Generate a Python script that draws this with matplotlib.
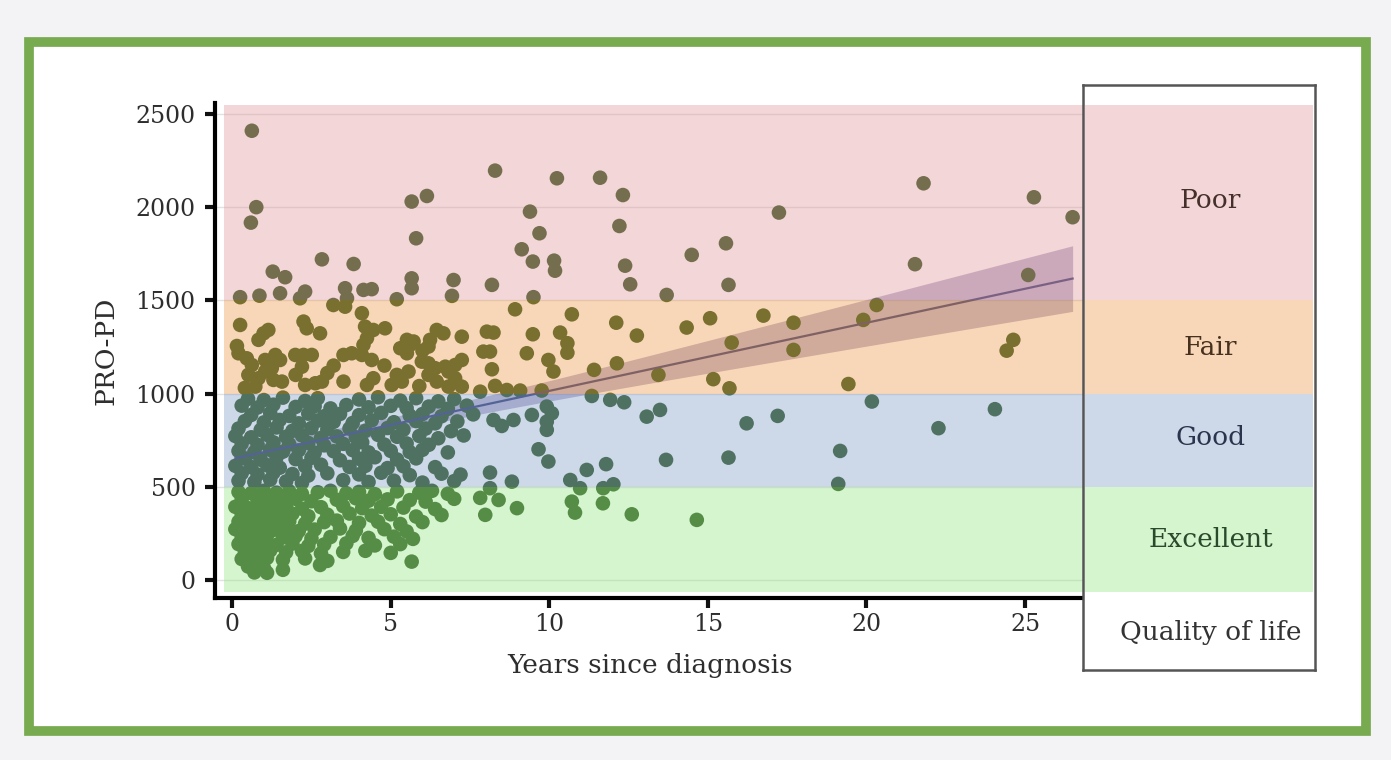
import numpy as np
import matplotlib
matplotlib.use("Agg")
import matplotlib.pyplot as plt
from matplotlib.patches import Rectangle

plt.rcParams['font.family'] = ['DejaVu Serif']

# quality-of-life bands (PRO-PD score ranges)
band_labels = ["Excellent", "Good", "Fair", "Poor"]
band_edges = [-65, 500, 1000, 1500, 2550]
band_colors = ["#96e687", "#82a0ca", "#ed9b4e", "#e1999d"]
band_text_y = [215, 767, 1250, 2039]
band_text_colors = ["#2a4a2c", "#2a344d", "#47301e", "#45302b"]

# (years since diagnosis, PRO-PD)
poor_pts = [
    (0.62, 2410), (0.76, 2000), (0.59, 1917), (2.83, 1720), (3.83, 1695), (1.28, 1654),
    (1.67, 1624), (0.25, 1517), (0.86, 1525), (1.51, 1538), (2.30, 1547), (2.14, 1511),
    (3.56, 1565), (3.62, 1511), (4.14, 1556), (4.40, 1560), (5.19, 1506), (5.66, 2030),
    (6.14, 2060), (5.80, 1833), (5.66, 1618), (5.66, 1565), (6.98, 1609), (6.93, 1524),
    (8.29, 2196), (8.19, 1583), (9.39, 1976), (9.69, 1860), (9.13, 1774), (9.48, 1708),
    (10.15, 1713), (10.18, 1659), (10.24, 2155), (9.50, 1517), (11.60, 2158), (12.32, 2065),
    (12.21, 1899), (17.24, 1971), (15.57, 1806), (14.49, 1744), (12.39, 1686), (12.55, 1586),
    (15.65, 1583), (13.70, 1529), (21.80, 2128), (25.28, 2053), (26.50, 1946), (21.53, 1694),
    (25.10, 1636),
]

fair_pts = [
    (8.92, 1452), (10.71, 1425), (12.11, 1380), (12.76, 1311), (14.33, 1354), (15.07, 1404),
    (16.75, 1418), (17.70, 1380), (19.90, 1395), (20.32, 1475), (15.75, 1273), (17.70, 1234),
    (8.03, 1332), (8.24, 1327), (9.48, 1318), (10.34, 1327), (10.57, 1270), (10.57, 1219),
    (7.92, 1225), (8.13, 1225), (9.29, 1216), (9.97, 1180), (10.13, 1118), (8.19, 1130),
    (11.41, 1127), (12.13, 1162), (13.44, 1100), (15.17, 1077), (15.68, 1028), (19.43, 1051),
    (8.29, 1041), (8.66, 1019), (9.08, 1016), (9.76, 1016), (24.63, 1288), (24.42, 1230),
    (7.82, 1010),
    (3.19, 1475), (3.56, 1466), (4.09, 1431), (0.25, 1368), (0.99, 1323), (0.83, 1288),
    (1.14, 1341), (2.25, 1386), (2.35, 1350), (2.77, 1323), (4.19, 1359), (4.45, 1341),
    (4.82, 1350), (4.25, 1297), (4.14, 1261), (5.51, 1288), (5.72, 1279), (6.24, 1288),
    (6.19, 1252), (6.45, 1341), (6.66, 1323), (7.24, 1305), (0.20, 1216), (0.46, 1189),
    (0.62, 1153), (1.04, 1180), (1.36, 1207), (1.51, 1180), (1.25, 1136), (1.99, 1207),
    (2.25, 1207), (2.51, 1207), (2.20, 1144), (3.51, 1207), (3.77, 1216), (4.09, 1207),
    (4.40, 1180), (5.30, 1243), (5.51, 1216), (5.61, 1261), (5.98, 1171), (6.19, 1162),
    (6.40, 1136), (6.72, 1144), (6.82, 1118), (7.03, 1153), (7.24, 1180), (0.51, 1100),
    (0.83, 1082), (1.04, 1118), (0.73, 1037), (1.30, 1073), (1.57, 1064), (2.30, 1046),
    (2.62, 1055), (2.83, 1064), (3.51, 1064), (4.45, 1082), (4.25, 1046), (5.19, 1100),
    (5.35, 1064), (5.03, 1046), (5.56, 1118), (6.19, 1100), (6.45, 1064), (6.82, 1037),
    (7.03, 1082), (7.24, 1037), (0.15, 1255), (0.40, 1030), (3.00, 1110), (3.20, 1150),
    (2.00, 1100), (4.80, 1150), (5.90, 1040), (6.00, 1230),
]

good_pts = [
    (11.34, 987), (11.92, 966), (12.36, 953), (13.07, 876), (13.49, 912), (16.22, 840),
    (17.20, 880), (20.17, 957), (8.24, 858), (8.50, 826), (8.87, 858), (9.45, 885),
    (9.92, 930), (10.08, 894), (9.92, 849), (9.92, 805), (9.66, 701), (9.97, 635),
    (8.13, 576), (8.82, 527), (11.18, 590), (11.79, 621), (10.66, 536), (12.02, 513),
    (13.68, 644), (15.65, 656), (19.17, 692), (19.11, 515), (24.05, 916), (22.27, 814),
    (0.5, 972), (1.0, 965), (1.6, 978), (2.3, 960), (2.7, 975), (4.0, 968), (4.6, 980),
    (5.3, 962), (5.8, 975), (6.5, 958), (7.0, 970),
    (0.3, 935), (0.8, 925), (1.3, 940), (2.0, 928), (2.6, 932), (3.1, 920), (3.6, 938),
    (4.3, 926), (5.0, 934), (5.5, 922), (6.2, 930), (6.8, 918), (7.4, 935),
    (0.6, 885), (1.2, 895), (1.8, 880), (2.4, 892), (2.9, 878), (3.4, 890), (4.0, 884),
    (4.7, 896), (5.6, 882), (6.0, 890), (6.6, 878), (7.6, 888),
    (0.4, 852), (1.0, 845), (1.5, 858), (2.1, 840), (2.7, 855), (3.2, 848), (3.8, 842),
    (4.4, 856), (5.1, 846), (5.8, 852), (6.4, 840), (7.1, 850),
    (0.2, 812), (0.9, 805), (1.4, 818), (1.9, 800), (2.5, 815), (3.0, 808), (3.7, 812),
    (4.2, 800), (4.9, 815), (5.4, 806), (6.1, 812), (6.9, 798),
    (0.1, 772), (0.6, 765), (1.1, 778), (1.7, 768), (2.2, 775), (2.8, 762), (3.3, 770),
    (3.9, 765), (4.6, 778), (5.2, 768), (5.9, 772), (6.5, 760), (7.3, 775),
    (0.3, 732), (0.8, 725), (1.3, 738), (1.8, 728), (2.4, 735), (2.9, 722), (3.5, 730),
    (4.1, 738), (4.8, 726), (5.5, 732), (6.2, 725),
    (0.2, 692), (0.7, 685), (1.2, 698), (1.6, 688), (2.1, 695), (2.6, 682), (3.2, 690),
    (3.8, 696), (4.3, 684), (5.0, 692), (5.6, 686), (6.0, 698), (6.8, 684),
    (0.4, 652), (0.9, 645), (1.4, 658), (2.0, 648), (2.5, 655), (3.4, 642), (4.0, 650),
    (4.5, 658), (5.2, 646), (5.8, 652),
    (0.1, 612), (0.6, 605), (1.1, 615), (1.5, 602), (2.3, 610), (2.8, 618), (3.7, 606),
    (4.2, 612), (4.9, 600), (5.4, 610), (6.4, 605),
    (0.3, 572), (0.8, 565), (1.3, 575), (1.9, 568), (2.4, 560), (3.0, 572), (4.0, 566),
    (4.7, 575), (5.6, 562), (6.6, 570), (7.2, 565),
    (0.2, 532), (0.7, 525), (1.2, 538), (1.7, 528), (2.2, 520), (3.5, 535), (4.3, 525),
    (5.1, 532), (6.0, 522), (7.0, 530),
]

excellent_pts = [
    (7.82, 440), (8.40, 429), (7.98, 349), (8.98, 385), (8.13, 492), (10.97, 492),
    (11.70, 492), (10.71, 420), (10.81, 361), (11.69, 411), (12.60, 352), (14.65, 322),
    (0.2, 472), (0.6, 465), (1.0, 478), (1.4, 468), (1.8, 475), (2.2, 462), (2.7, 470),
    (3.1, 478), (3.6, 465), (4.0, 472), (4.5, 460), (5.2, 475), (5.9, 468), (6.3, 478),
    (6.8, 462),
    (0.3, 432), (0.8, 425), (1.2, 438), (1.6, 428), (2.0, 435), (2.5, 422), (3.3, 430),
    (3.9, 438), (4.3, 425), (4.9, 432), (5.6, 428), (6.1, 420), (7.0, 435),
    (0.1, 392), (0.5, 385), (0.9, 398), (1.3, 388), (1.7, 395), (2.2, 382), (2.8, 390),
    (3.5, 396), (4.1, 385), (4.7, 392), (5.4, 388), (6.4, 380),
    (0.3, 352), (0.7, 345), (1.1, 358), (1.5, 348), (1.9, 355), (2.4, 342), (3.0, 350),
    (3.7, 356), (4.4, 345), (5.0, 352), (5.8, 340), (6.6, 348),
    (0.2, 312), (0.6, 305), (1.0, 318), (1.4, 308), (1.8, 315), (2.3, 302), (2.9, 310),
    (3.3, 318), (4.0, 306), (4.6, 312), (5.3, 300), (6.0, 310),
    (0.1, 272), (0.5, 265), (0.9, 278), (1.3, 268), (1.7, 275), (2.1, 262), (2.6, 270),
    (3.4, 276), (3.9, 265), (4.8, 272), (5.5, 260),
    (0.3, 232), (0.7, 225), (1.1, 238), (1.6, 228), (2.0, 235), (2.5, 222), (3.1, 230),
    (3.8, 236), (4.3, 225), (5.1, 232), (5.7, 220),
    (0.2, 192), (0.6, 185), (1.0, 198), (1.4, 188), (1.9, 195), (2.4, 182), (2.9, 190),
    (3.6, 196), (4.5, 185), (5.3, 192),
    (0.4, 152), (0.8, 145), (1.2, 158), (1.7, 148), (2.2, 155), (2.8, 142), (3.5, 150),
    (4.2, 156), (5.0, 145),
    (0.3, 112), (0.7, 105), (1.1, 118), (1.6, 108), (2.3, 115), (3.0, 102), (5.66, 98),
    (0.5, 72), (1.0, 65), (1.6, 54), (2.77, 80),
    (0.7, 40), (1.1, 38),
]

pts = np.array(poor_pts + fair_pts + good_pts + excellent_pts, dtype=float)
years = pts[:, 0]
scores = pts[:, 1]

# linear fit with 95% confidence band
slope, intercept = np.polyfit(years, scores, 1)
n = len(years)
resid = scores - (intercept + slope * years)
s = np.sqrt(np.sum(resid ** 2) / (n - 2))
xbar = years.mean()
sxx = np.sum((years - xbar) ** 2)
xs = np.linspace(years.min(), years.max(), 200)
fit = intercept + slope * xs
ci = 1.96 * s * np.sqrt(1 / n + (xs - xbar) ** 2 / sxx)

fig = plt.figure(figsize=(13.91, 7.6), dpi=100, facecolor="#f3f3f6")
fig.add_artist(Rectangle((29 / 1391, 1 - 731 / 760), 1337 / 1391, 689 / 760,
                         transform=fig.transFigure, facecolor="white",
                         edgecolor="#78aa50", linewidth=7, zorder=-1))

ax = fig.add_axes([0.1546, 0.2132, 0.6254, 0.6513])
ax.set_xlim(-0.54, 26.89)
ax.set_ylim(-97, 2559)

for v in [0, 500, 1000, 1500, 2000, 2500]:
    ax.axhline(v, color="#e2e2e2", lw=1, zorder=1)

ax.fill_between(xs, fit - ci, fit + ci, color="#6e5a96", alpha=0.45, lw=0, zorder=1.5)
ax.scatter(years, scores, s=110, color="#2d521c", edgecolors="none", zorder=2)
ax.plot(xs, fit, color="#373c73", lw=1.6, zorder=2.5)

for lo, hi, c in zip(band_edges[:-1], band_edges[1:], band_colors):
    ax.axhspan(lo, hi, xmin=0.01, xmax=1, color=c, alpha=0.4, lw=0, zorder=3)

ax.spines["top"].set_visible(False)
ax.spines["right"].set_visible(False)
for sp in ["left", "bottom"]:
    ax.spines[sp].set_linewidth(3)
ax.set_xticks([0, 5, 10, 15, 20, 25])
ax.set_yticks([0, 500, 1000, 1500, 2000, 2500])
ax.tick_params(width=3, length=7, labelsize=17, colors="#111111", labelcolor="#2e2e2e")
ax.tick_params(axis="y", pad=7)
ax.tick_params(axis="x", pad=4)
ax.set_xlabel("Years since diagnosis", fontsize=19, color="#2e2e2e", labelpad=12)
ax.set_ylabel("PRO-PD", fontsize=19, color="#2e2e2e", labelpad=12)

# quality-of-life key on the right
lax = fig.add_axes([0.7786, 0.1184, 0.1668, 0.7697])
lax.set_xlim(0, 1)
lax.set_ylim(-483, 2656)
lax.set_xticks([])
lax.set_yticks([])
for sp in lax.spines.values():
    sp.set_color("#555555")
    sp.set_linewidth(1.8)
for lo, hi, c in zip(band_edges[:-1], band_edges[1:], band_colors):
    lax.axhspan(lo, hi, xmin=0.01, xmax=0.99, color=c, alpha=0.4, lw=0)
for lab, y, c in zip(band_labels, band_text_y, band_text_colors):
    lax.text(0.55, y, lab, ha="center", va="center", fontsize=19, color=c)
lax.text(0.55, -284, "Quality of life", ha="center", va="center", fontsize=19, color="#333333")

fig.savefig("out.png", dpi=100, facecolor=fig.get_facecolor())
